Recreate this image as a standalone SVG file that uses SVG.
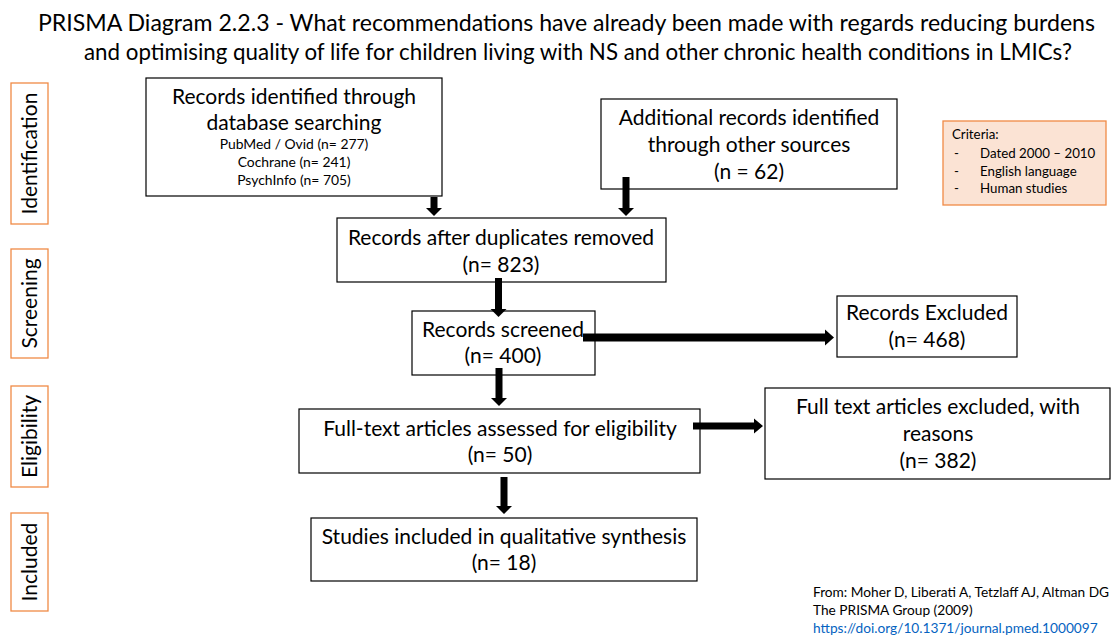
<svg xmlns="http://www.w3.org/2000/svg" width="1112" height="635" viewBox="0 0 1112 635">
  <style>
    text { font-family: Lato, "Open Sans", "Liberation Sans", sans-serif; fill: #000; }
    .title { font-size: 23px; text-anchor: middle; }
    .big { font-size: 21px; text-anchor: middle; }
    .small { font-size: 13.9px; text-anchor: middle; }
    .stage { font-size: 21px; text-anchor: middle; }
    .crit { font-size: 13.3px; }
    .foot { font-size: 13.7px; }
    .link { font-size: 13.7px; fill: #0563C1; }
    .box { fill: #fff; stroke: #000; stroke-width: 1.2; }
    .stagebox { fill: #fff; stroke: #F08A45; stroke-width: 1.3; }
    .critbox { fill: #FBE3D4; stroke: #F08A45; stroke-width: 1.3; }
    .arrow { fill: #000; }
  </style>

  <!-- heading -->
  <g id="title">
    <text class="title" x="566.5" y="31" textLength="1057" lengthAdjust="spacingAndGlyphs">PRISMA Diagram 2.2.3 - What recommendations have already been made with regards reducing burdens</text>
    <text class="title" x="578" y="60" textLength="988" lengthAdjust="spacingAndGlyphs">and optimising quality of life for children living with NS and other chronic health conditions in LMICs?</text>
  </g>

  <!-- stage labels down the left margin -->
  <g id="stage-identification">
    <rect class="stagebox" x="11" y="83" width="37" height="141"/>
    <text class="stage" transform="translate(37 153.5) rotate(-90)">Identification</text>
  </g>
  <g id="stage-screening">
    <rect class="stagebox" x="11" y="249" width="37" height="109"/>
    <text class="stage" transform="translate(37 303.5) rotate(-90)">Screening</text>
  </g>
  <g id="stage-eligibility">
    <rect class="stagebox" x="11" y="386" width="37" height="101"/>
    <text class="stage" transform="translate(37 436.5) rotate(-90)">Eligibility</text>
  </g>
  <g id="stage-included">
    <rect class="stagebox" x="11" y="513" width="37" height="98"/>
    <text class="stage" transform="translate(37 562) rotate(-90)">Included</text>
  </g>

  <!-- flow nodes -->
  <g id="node-database">
    <rect class="box" x="146" y="78" width="296" height="118"/>
    <text class="big" x="294" y="104">Records identified through</text>
    <text class="big" x="294" y="130">database searching</text>
    <text class="small" x="294" y="149">PubMed / Ovid (n= 277)</text>
    <text class="small" x="294" y="167">Cochrane (n= 241)</text>
    <text class="small" x="294" y="185">PsychInfo (n= 705)</text>
  </g>

  <g id="node-other-sources">
    <rect class="box" x="601" y="99" width="296" height="90"/>
    <text class="big" x="749" y="125">Additional records identified</text>
    <text class="big" x="749" y="152">through other sources</text>
    <text class="big" x="749" y="179">(n = 62)</text>
  </g>

  <g id="node-criteria">
    <rect class="critbox" x="943" y="121" width="163" height="84"/>
    <text class="crit" x="952" y="139">Criteria:</text>
    <text class="crit" x="954" y="158">-</text>
    <text class="crit" x="980" y="158">Dated 2000 – 2010</text>
    <text class="crit" x="954" y="176">-</text>
    <text class="crit" x="980" y="176">English language</text>
    <text class="crit" x="954" y="193">-</text>
    <text class="crit" x="980" y="193">Human studies</text>
  </g>

  <g id="node-duplicates">
    <rect class="box" x="337" y="218" width="329" height="64"/>
    <text class="big" x="501" y="245">Records after duplicates removed</text>
    <text class="big" x="501" y="272">(n= 823)</text>
  </g>

  <g id="node-screened">
    <rect class="box" x="412" y="311" width="183" height="64"/>
    <text class="big" x="503" y="337">Records screened</text>
    <text class="big" x="503" y="363">(n= 400)</text>
  </g>

  <g id="node-excluded">
    <rect class="box" x="837" y="296" width="180" height="61"/>
    <text class="big" x="927" y="320">Records Excluded</text>
    <text class="big" x="927" y="347">(n= 468)</text>
  </g>

  <g id="node-fulltext">
    <rect class="box" x="299" y="409" width="401" height="64"/>
    <text class="big" x="500" y="436">Full-text articles assessed for eligibility</text>
    <text class="big" x="500" y="462">(n= 50)</text>
  </g>

  <g id="node-fulltext-excluded">
    <rect class="box" x="765" y="388" width="345" height="91"/>
    <text class="big" x="938" y="414">Full text articles excluded, with</text>
    <text class="big" x="938" y="441">reasons</text>
    <text class="big" x="938" y="468">(n= 382)</text>
  </g>

  <g id="node-included">
    <rect class="box" x="311" y="518" width="386" height="63"/>
    <text class="big" x="504" y="544">Studies included in qualitative synthesis</text>
    <text class="big" x="504" y="570">(n= 18)</text>
  </g>

  <!-- block arrows between nodes -->
  <g id="connectors">
    <polygon class="arrow" points="430.5,197 437.5,197 437.5,208 442,208 434,216 426,208 430.5,208"/>
    <polygon class="arrow" points="622.5,177 629.5,177 629.5,208 634,208 626,216 618,208 622.5,208"/>
    <polygon class="arrow" points="495,278 502,278 502,309 506.5,309 498.5,317 490.5,309 495,309"/>
    <polygon class="arrow" points="583,333.5 825,333.5 825,329.5 834,337.5 825,345.5 825,341.5 583,341.5"/>
    <polygon class="arrow" points="495.5,368 502.5,368 502.5,398 507,398 499,406 491,398 495.5,398"/>
    <polygon class="arrow" points="693,422.5 754,422.5 754,418.5 763,426 754,433.5 754,429.5 693,429.5"/>
    <polygon class="arrow" points="500.5,477 507.5,477 507.5,506 512,506 504,514 496,506 500.5,506"/>
  </g>

  <!-- source reference -->
  <g id="footer">
    <text class="foot" x="813" y="597">From: Moher D, Liberati A, Tetzlaff AJ, Altman DG</text>
    <text class="foot" x="813" y="615">The PRISMA Group (2009)</text>
    <text class="link" x="813" y="633">https://doi.org/10.1371/journal.pmed.1000097</text>
  </g>
</svg>
